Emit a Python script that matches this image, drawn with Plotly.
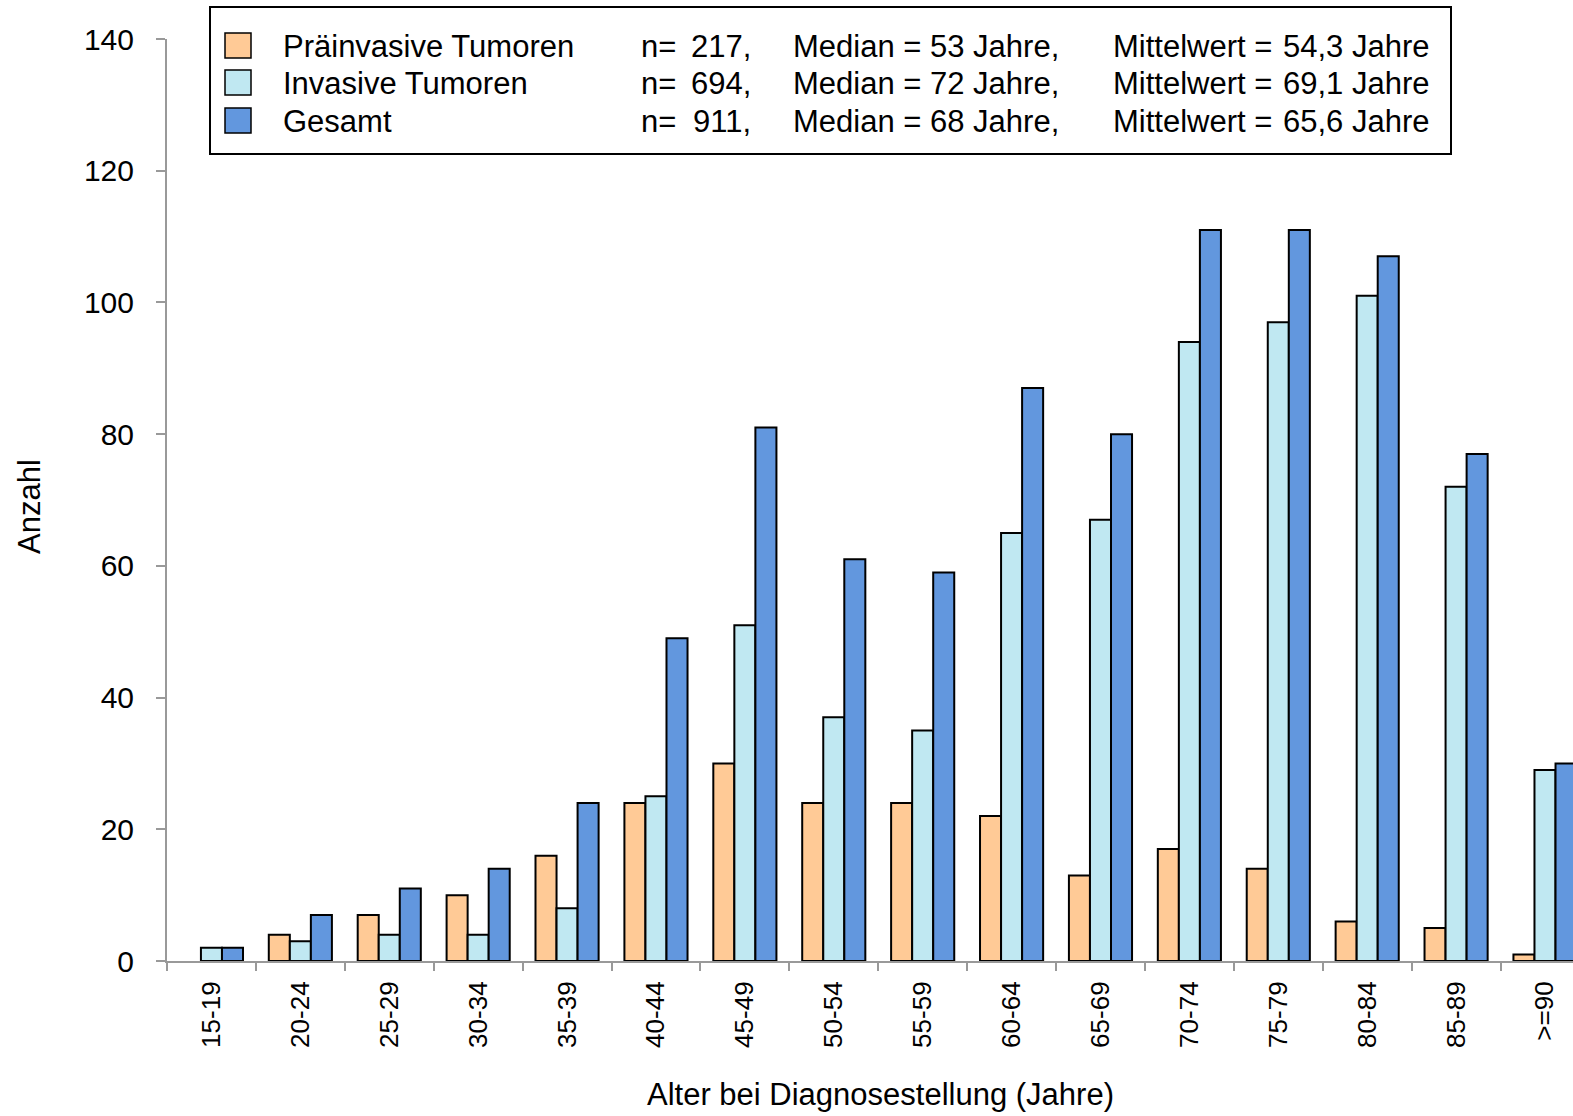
import plotly.graph_objects as go

categories = ["15-19", "20-24", "25-29", "30-34", "35-39", "40-44", "45-49", "50-54",
              "55-59", "60-64", "65-69", "70-74", "75-79", "80-84", "85-89", ">=90"]
praeinvasiv = [0, 4, 7, 10, 16, 24, 30, 24, 24, 22, 13, 17, 14, 6, 5, 1]
invasiv = [2, 3, 4, 4, 8, 25, 51, 37, 35, 65, 67, 94, 97, 101, 72, 29]
gesamt = [2, 7, 11, 14, 24, 49, 81, 61, 59, 87, 80, 111, 111, 107, 77, 30]

series_names = ["Präinvasive Tumoren", "Invasive Tumoren", "Gesamt"]
series_n = ["217,", "694,", "911,"]
series_median = ["Median = 53 Jahre,", "Median = 72 Jahre,", "Median = 68 Jahre,"]
series_mean = ["54,3 Jahre", "69,1 Jahre", "65,6 Jahre"]
colors = ["#FFCA96", "#C0E8F2", "#6297DE"]

W, H = 1573, 1116
L, R, T, B = 167, 1573, 39, 961
FONT = "Liberation Sans, Arial, sans-serif"


def px(x):
    return (x - L) / (R - L)


def py(y):
    return (B - y) / (B - T)


fig = go.Figure()
for name, vals, col in zip(series_names, [praeinvasiv, invasiv, gesamt], colors):
    fig.add_trace(go.Bar(
        x=categories,
        y=[v if v > 0 else None for v in vals],
        name=name,
        marker=dict(color=col, line=dict(color="black", width=2)),
        showlegend=False,
    ))

shapes = []
annotations = []
# legend box
shapes.append(dict(type="rect", xref="paper", yref="paper",
                   x0=px(210), x1=px(1451), y0=py(154), y1=py(7),
                   line=dict(color="black", width=2), fillcolor="white", layer="below"))
row_y = [45.5, 82.5, 120.5]
for i, yc in enumerate(row_y):
    shapes.append(dict(type="rect", xref="paper", yref="paper",
                       x0=px(225), x1=px(251), y0=py(yc + 12.5), y1=py(yc - 12.5),
                       line=dict(color="black", width=1.5), fillcolor=colors[i]))
    ty = py(yc + 1)
    annotations.append(dict(xref="paper", yref="paper", x=px(281), y=ty, text=series_names[i],
                            showarrow=False, xanchor="left", yanchor="middle"))
    annotations.append(dict(xref="paper", yref="paper", x=px(639), y=ty, text="n=",
                            showarrow=False, xanchor="left", yanchor="middle"))
    annotations.append(dict(xref="paper", yref="paper", x=px(753), y=ty, text=series_n[i],
                            showarrow=False, xanchor="right", yanchor="middle"))
    annotations.append(dict(xref="paper", yref="paper", x=px(791), y=ty, text=series_median[i],
                            showarrow=False, xanchor="left", yanchor="middle"))
    annotations.append(dict(xref="paper", yref="paper", x=px(1111), y=ty, text="Mittelwert =",
                            showarrow=False, xanchor="left", yanchor="middle"))
    annotations.append(dict(xref="paper", yref="paper", x=px(1281), y=ty, text=series_mean[i],
                            showarrow=False, xanchor="left", yanchor="middle"))

annotations.append(dict(xref="paper", yref="paper", x=px(880), y=py(1094),
                        text="Alter bei Diagnosestellung (Jahre)", showarrow=False,
                        xanchor="center", yanchor="middle"))
annotations.append(dict(xref="paper", yref="paper", x=px(29), y=py(507),
                        text="Anzahl", showarrow=False, textangle=-90,
                        xanchor="center", yanchor="middle"))

fig.update_layout(
    width=W, height=H,
    margin=dict(l=L, r=W - R, t=T, b=H - B, pad=0),
    paper_bgcolor="white", plot_bgcolor="white",
    font=dict(family=FONT, size=31, color="black"),
    barmode="group", bargap=0.29, bargroupgap=0,
    shapes=shapes, annotations=annotations,
    xaxis=dict(
        type="category", range=[-0.5, 15.315],
        tickson="boundaries", ticks="outside", ticklen=8, tickwidth=2, tickcolor="#999999",
        showline=True, linecolor="#999999", linewidth=2,
        tickangle=-90, tickfont=dict(size=26), showgrid=False, zeroline=False,
        ticklabelstandoff=8,
    ),
    yaxis=dict(
        range=[0, 140], dtick=20, ticks="outside", ticklen=9, tickwidth=2, tickcolor="#999999",
        showline=True, linecolor="#999999", linewidth=2,
        tickfont=dict(size=30), showgrid=False, zeroline=False,
        ticklabelstandoff=16,
    ),
)

fig.write_html("out.html", config={"displayModeBar": False},
               post_script="document.body.style.margin='0';")
